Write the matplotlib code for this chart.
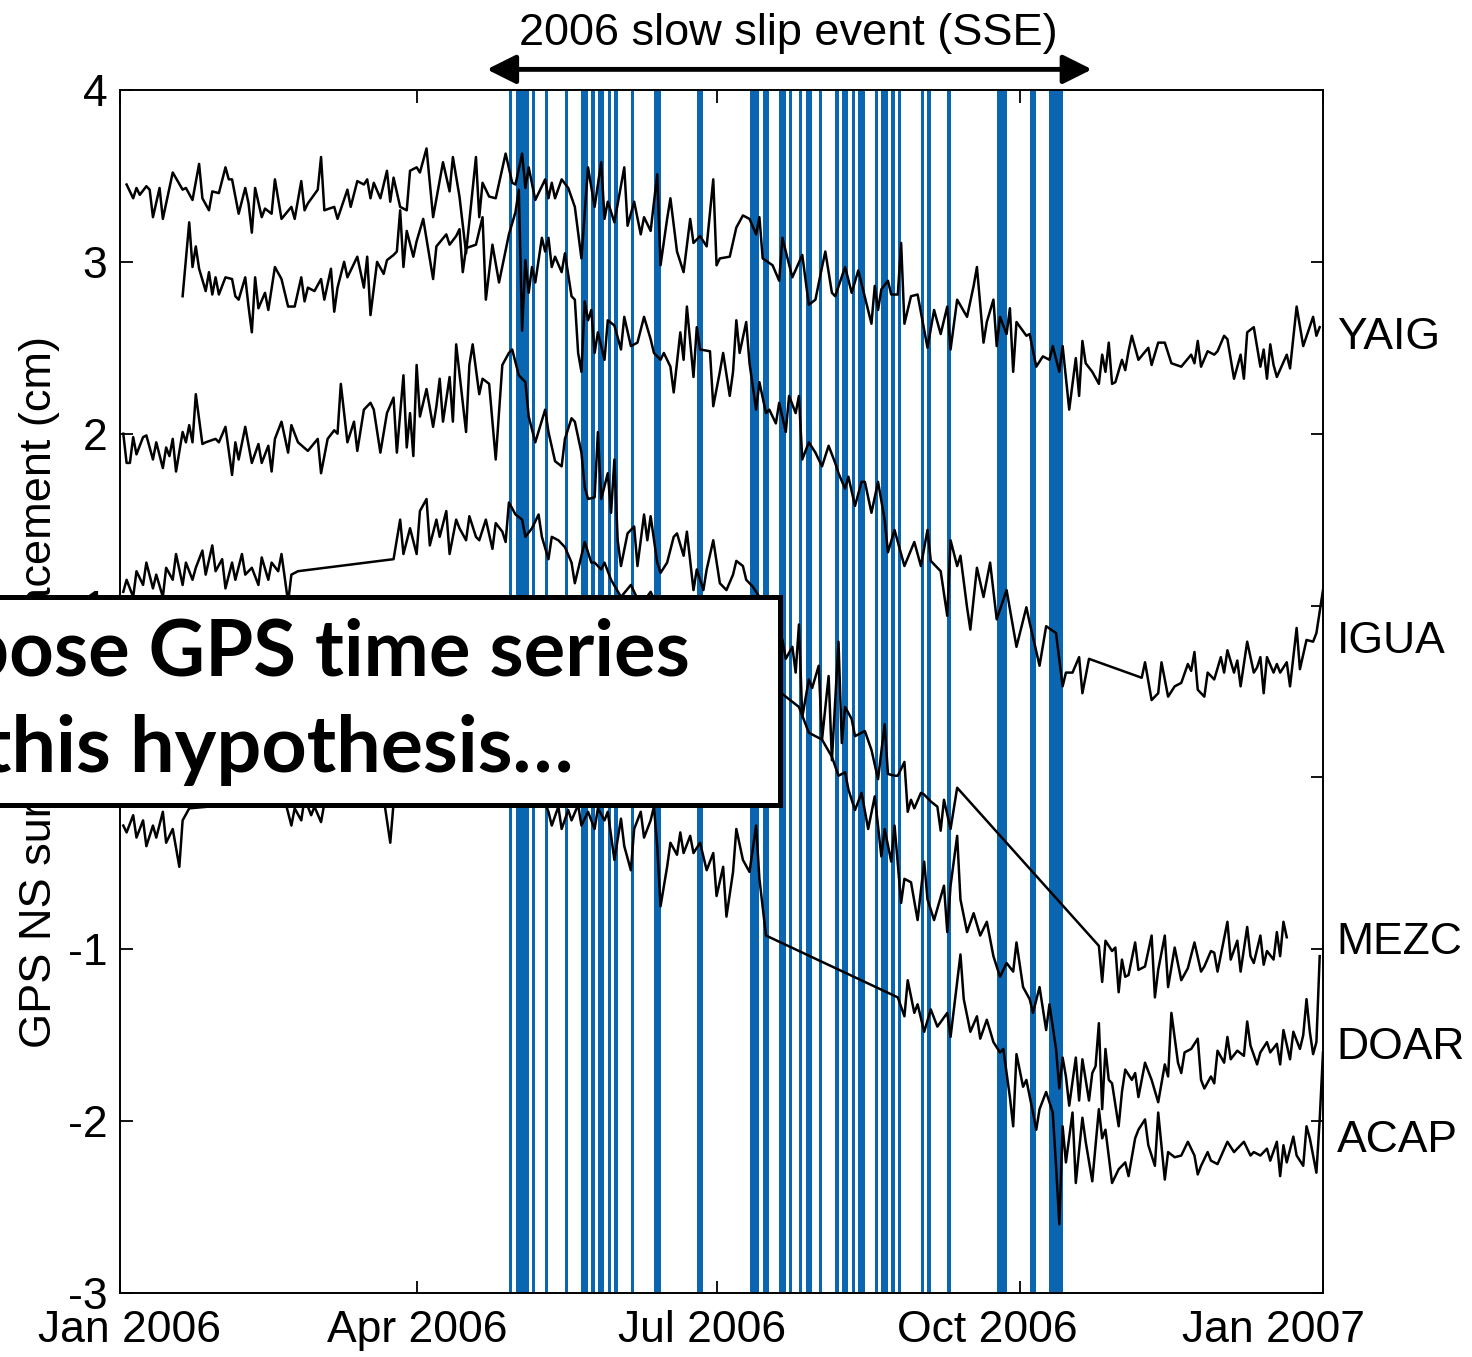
#!/usr/bin/env python3

"""
GPS north-south displacement of five stations through the 2006 slow slip
event, with the days of detected events drawn as blue bars.
"""

import matplotlib
matplotlib.use('Agg')
import matplotlib.pyplot as plt
from matplotlib.patches import Rectangle

plt.rcParams['font.family'] = ['Liberation Sans', 'DejaVu Sans']
plt.rcParams['axes.unicode_minus'] = False

# Station names, top to bottom
stations = ['YAIG', 'IGUA', 'MEZC', 'DOAR', 'ACAP']

# Day of 2006 (0 = 1 Jan) and displacement [cm] for every station
yaig_day = [2, 4, 5, 6, 8, 9, 10, 12, 13, 16, 19, 20, 22, 24, 25, 27, 28, 30, 32, 33,
            34, 36, 38, 39, 40, 41, 43, 44, 46, 47, 49, 52, 53, 55, 56, 57, 60, 61, 62, 65,
            66, 69, 70, 72, 74, 75, 76, 77, 79, 81, 82, 83, 85, 87, 88, 90, 91, 93, 95, 98,
            100, 101, 103, 105, 108, 109, 110, 112, 114, 117, 119, 120, 122, 123, 124, 126,
            129, 130, 131, 132, 134, 136, 138, 140, 142, 144, 146, 147, 148, 150, 153, 154,
            156, 158, 159, 161, 163, 164, 166, 167, 169, 171, 173, 174, 176, 178, 180, 181,
            182, 185, 187, 189, 191, 193, 194, 195, 198, 200, 201, 202, 204, 207, 209, 211,
            213, 214, 216, 217, 220, 222, 224, 228, 229, 230, 231, 233, 234, 236, 237, 238,
            240, 242, 245, 247, 249, 251, 252, 254, 257, 259, 260, 262, 263, 265, 266, 267,
            269, 270, 271, 272, 275, 276, 278, 280, 282, 283, 285, 286, 288, 290, 291, 292,
            293, 295, 297, 298, 299, 300, 301, 302, 304, 305, 306, 307, 309, 312, 313, 315,
            317, 319, 322, 325, 326, 327, 328, 330, 332, 333, 335, 336, 338, 340, 341, 342,
            344, 346, 347, 348, 349, 350, 351, 354, 355, 357, 359, 362, 363, 364]
yaig_cm = [3.45, 3.37, 3.43, 3.39, 3.44, 3.42, 3.26, 3.43, 3.25, 3.52, 3.42, 3.43, 3.36,
           3.57, 3.37, 3.30, 3.41, 3.40, 3.55, 3.48, 3.48, 3.28, 3.43, 3.34, 3.17, 3.43,
           3.26, 3.31, 3.28, 3.48, 3.25, 3.32, 3.25, 3.47, 3.30, 3.34, 3.42, 3.61, 3.30,
           3.32, 3.25, 3.42, 3.32, 3.47, 3.45, 3.48, 3.37, 3.46, 3.37, 3.53, 3.35, 3.49,
           3.32, 3.30, 3.53, 3.55, 3.52, 3.66, 3.26, 3.58, 3.41, 3.61, 3.38, 3.05, 3.61,
           3.26, 3.46, 3.38, 3.37, 3.63, 3.46, 3.45, 3.63, 3.43, 3.55, 3.36, 3.48, 3.37,
           3.46, 3.37, 3.48, 3.43, 3.32, 3.02, 3.55, 3.32, 3.58, 3.25, 3.35, 3.23, 3.55,
           3.21, 3.35, 3.16, 3.26, 3.18, 3.51, 2.98, 3.25, 3.37, 3.06, 2.94, 3.25, 3.11,
           3.15, 3.09, 3.48, 2.98, 3.02, 3.03, 3.20, 3.27, 3.25, 3.16, 3.26, 3.02, 2.98,
           2.89, 3.14, 3.06, 2.91, 3.04, 2.75, 2.78, 2.97, 3.06, 2.82, 2.80, 2.97, 2.82,
           2.95, 2.64, 2.86, 2.72, 2.84, 2.89, 2.81, 2.81, 3.11, 2.64, 2.80, 2.81, 2.50,
           2.72, 2.58, 2.74, 2.49, 2.78, 2.68, 2.86, 2.97, 2.53, 2.65, 2.78, 2.51, 2.68,
           2.58, 2.73, 2.36, 2.65, 2.57, 2.58, 2.39, 2.45, 2.43, 2.51, 2.36, 2.51, 2.14,
           2.44, 2.22, 2.54, 2.41, 2.36, 2.29, 2.46, 2.36, 2.53, 2.29, 2.30, 2.43, 2.37,
           2.48, 2.57, 2.43, 2.50, 2.40, 2.53, 2.53, 2.41, 2.39, 2.46, 2.41, 2.54, 2.39,
           2.48, 2.46, 2.48, 2.57, 2.55, 2.32, 2.46, 2.32, 2.59, 2.62, 2.39, 2.49, 2.32,
           2.52, 2.40, 2.33, 2.46, 2.38, 2.74, 2.51, 2.68, 2.57, 2.62]

igua_day = [19, 21, 22, 23, 24, 26, 27, 28, 29, 30, 32, 34, 35, 36, 38, 39, 40, 41, 42, 44,
            45, 47, 49, 51, 53, 55, 56, 57, 59, 61, 62, 64, 65, 66, 68, 69, 72, 74, 75, 76,
            78, 80, 81, 83, 84, 85, 86, 87, 89, 90, 92, 95, 96, 99, 100, 102, 103, 104, 105,
            108, 110, 111, 113, 115, 118, 120, 121, 122, 123, 124, 125, 126, 128, 129, 130,
            131, 132, 134, 135, 137, 138, 139, 140, 141, 142, 143, 144, 145, 147, 148, 150,
            152, 153, 155, 157, 159, 161, 162, 164, 165, 167, 168, 170, 171, 172, 174, 175,
            176, 179, 180, 182, 183, 185, 186, 187, 188, 190, 191, 193, 194, 196, 197, 199,
            200, 202, 203, 205, 206, 207, 209, 211, 213, 215, 217, 218, 220, 221, 223, 225,
            226, 228, 230, 232, 233, 235, 238, 241, 243, 245, 246, 249, 251, 252, 254, 255,
            257, 258, 260, 262, 264, 266, 269, 272, 275, 276, 279, 281, 284, 286, 287, 289,
            291, 292, 294, 310, 311, 313, 315, 316, 318, 320, 322, 324, 325, 326, 327, 329,
            330, 332, 334, 335, 336, 338, 339, 340, 342, 344, 345, 346, 347, 348, 350, 351,
            352, 354, 355, 357, 358, 360, 362, 363, 365]
igua_cm = [2.80, 3.23, 2.97, 3.09, 2.96, 2.83, 2.94, 2.81, 2.91, 2.81, 2.91, 2.90, 2.80,
           2.78, 2.91, 2.74, 2.59, 2.91, 2.73, 2.82, 2.72, 2.97, 2.90, 2.74, 2.74, 2.91,
           2.77, 2.85, 2.83, 2.90, 2.78, 2.96, 2.71, 2.85, 3.00, 2.91, 3.03, 2.85, 3.03,
           2.69, 3.00, 2.93, 3.01, 3.04, 3.06, 3.30, 2.97, 3.18, 3.03, 3.12, 3.25, 2.90,
           3.09, 3.16, 3.10, 3.15, 3.19, 2.94, 3.08, 3.10, 3.26, 2.78, 3.10, 2.88, 3.16,
           3.29, 3.42, 2.60, 3.01, 2.82, 2.97, 2.88, 3.14, 3.06, 3.14, 2.97, 3.03, 2.94,
           3.05, 2.80, 2.78, 2.47, 2.36, 2.77, 2.66, 2.72, 2.47, 2.59, 2.43, 2.66, 2.63,
           2.49, 2.68, 2.51, 2.53, 2.68, 2.55, 2.47, 2.43, 2.47, 2.39, 2.24, 2.59, 2.43,
           2.74, 2.33, 2.62, 2.49, 2.48, 2.16, 2.36, 2.47, 2.22, 2.36, 2.66, 2.47, 2.65,
           2.41, 2.14, 2.30, 2.12, 2.14, 2.06, 2.18, 2.01, 2.22, 2.12, 2.22, 1.85, 1.95,
           1.89, 1.81, 1.93, 1.83, 1.77, 1.68, 1.75, 1.58, 1.72, 1.72, 1.54, 1.72, 1.50,
           1.31, 1.44, 1.23, 1.37, 1.23, 1.44, 1.26, 1.20, 0.94, 1.38, 1.23, 1.29, 0.99,
           0.86, 1.22, 1.05, 1.25, 0.92, 1.09, 0.76, 0.99, 0.90, 0.65, 0.88, 0.84, 0.53,
           0.61, 0.61, 0.70, 0.49, 0.69, 0.58, 0.67, 0.45, 0.49, 0.67, 0.47, 0.53, 0.55,
           0.66, 0.62, 0.73, 0.51, 0.47, 0.61, 0.57, 0.70, 0.61, 0.74, 0.61, 0.68, 0.53,
           0.79, 0.61, 0.64, 0.70, 0.49, 0.70, 0.61, 0.66, 0.61, 0.67, 0.53, 0.87, 0.63,
           0.80, 0.79, 0.84, 1.09]

mezc_day = [1, 2, 3, 4, 5, 7, 8, 10, 11, 13, 14, 15, 16, 17, 19, 20, 21, 22, 23, 25, 26,
            29, 30, 32, 34, 35, 36, 38, 40, 42, 43, 45, 46, 47, 49, 51, 52, 54, 57, 60, 61,
            63, 65, 66, 67, 69, 71, 72, 74, 76, 77, 79, 81, 83, 84, 86, 87, 88, 89, 90, 91,
            93, 95, 96, 97, 98, 100, 101, 102, 105, 106, 107, 109, 110, 112, 114, 116, 118,
            119, 121, 123, 124, 126, 129, 130, 132, 134, 135, 137, 138, 140, 141, 142, 144,
            145, 146, 148, 149, 150, 151, 152, 154, 156, 157, 159, 160, 161, 163, 164, 166,
            168, 169, 171, 172, 174, 175, 177, 178, 180, 182, 184, 186, 187, 189, 190, 192,
            195, 198, 201, 202, 204, 205, 206, 207, 209, 210, 212, 213, 215, 216, 218, 219,
            220, 222, 223, 226, 228, 230, 232, 233, 235, 236, 238, 239, 240, 241, 243, 244,
            246, 248, 249, 250, 252, 254, 297, 298, 299, 301, 302, 303, 304, 305, 306, 308,
            309, 311, 313, 314, 315, 317, 318, 320, 322, 324, 326, 328, 329, 331, 332, 333,
            336, 337, 339, 340, 342, 343, 344, 346, 347, 348, 350, 351, 352, 353, 354]
mezc_cm = [2.00, 1.83, 1.83, 1.98, 1.88, 1.98, 1.99, 1.85, 1.95, 1.80, 1.92, 1.87, 1.97,
           1.78, 2.01, 1.95, 2.05, 1.95, 2.23, 1.94, 1.95, 1.97, 1.95, 2.04, 1.76, 1.95,
           1.85, 2.04, 1.83, 1.94, 1.83, 1.93, 1.78, 1.97, 2.07, 1.89, 2.05, 1.95, 1.90,
           1.97, 1.77, 1.97, 2.02, 2.00, 2.29, 1.95, 2.07, 1.90, 2.14, 2.18, 2.14, 1.89,
           2.12, 2.21, 1.89, 2.34, 1.92, 2.12, 1.87, 2.40, 2.10, 2.26, 2.04, 2.16, 2.32,
           2.07, 2.33, 2.07, 2.52, 2.01, 2.40, 2.52, 2.23, 2.32, 2.29, 1.85, 2.40, 2.47,
           2.49, 2.34, 2.30, 2.10, 1.95, 2.14, 2.01, 1.84, 1.81, 1.97, 2.09, 2.07, 1.89,
           1.69, 1.62, 1.63, 2.01, 1.62, 1.77, 1.54, 1.85, 1.38, 1.23, 1.42, 1.46, 1.23,
           1.53, 1.38, 1.52, 1.25, 1.19, 1.25, 1.40, 1.42, 1.29, 1.43, 1.09, 1.21, 1.09,
           1.21, 1.38, 1.13, 1.09, 1.18, 1.26, 1.23, 1.15, 1.11, 1.02, 0.92, 0.80, 0.69,
           0.76, 0.61, 0.89, 0.35, 0.57, 0.52, 0.65, 0.22, 0.59, 0.10, 0.79, 0.20, 0.41,
           0.34, 0.24, 0.27, 0.16, -0.01, 0.31, 0.02, 0.01, 0.01, 0.09, -0.20, -0.13, -0.18,
           -0.09, -0.10, -0.14, -0.17, -0.31, -0.13, -0.30, -0.06, -0.98, -1.19, -0.95,
           -1.01, -0.99, -1.25, -1.06, -1.16, -1.15, -0.96, -1.12, -1.10, -0.92, -1.28,
           -1.12, -0.92, -1.22, -0.99, -1.18, -1.11, -0.96, -1.13, -1.10, -1.01, -1.02,
           -1.13, -0.84, -1.06, -0.95, -1.13, -0.87, -1.04, -1.08, -0.92, -1.09, -1.01,
           -1.06, -0.90, -1.04, -0.84, -0.93]

doar_day = [1, 2, 4, 5, 7, 8, 10, 11, 13, 14, 16, 17, 19, 20, 22, 23, 25, 26, 28, 29, 31,
            32, 34, 35, 37, 38, 40, 42, 43, 45, 46, 48, 49, 51, 52, 54, 83, 85, 86, 88, 90,
            91, 93, 94, 96, 97, 99, 100, 102, 103, 105, 106, 108, 109, 111, 113, 114, 116,
            117, 118, 120, 122, 123, 125, 127, 128, 130, 131, 133, 135, 137, 138, 140, 141,
            143, 144, 146, 147, 149, 152, 155, 158, 161, 164, 167, 170, 173, 176, 179, 182,
            185, 188, 191, 194, 197, 200, 202, 206, 209, 213, 216, 218, 220, 221, 223, 225,
            227, 229, 231, 232, 234, 235, 237, 238, 240, 242, 244, 245, 247, 250, 251, 252,
            254, 255, 257, 259, 261, 263, 265, 267, 269, 271, 272, 274, 276, 277, 279, 281,
            282, 284, 285, 286, 287, 288, 290, 291, 292, 294, 295, 296, 297, 298, 299, 300,
            301, 303, 304, 305, 307, 308, 309, 311, 313, 315, 317, 318, 319, 321, 322, 323,
            325, 327, 328, 329, 331, 332, 333, 335, 336, 337, 339, 341, 342, 343, 345, 346,
            348, 349, 351, 352, 353, 355, 356, 358, 359, 360, 361, 362, 363, 364]
doar_cm = [1.08, 1.15, 1.05, 1.20, 1.12, 1.25, 1.10, 1.18, 1.05, 1.22, 1.15, 1.30, 1.12,
           1.25, 1.15, 1.22, 1.32, 1.18, 1.35, 1.20, 1.27, 1.10, 1.25, 1.15, 1.30, 1.18,
           1.22, 1.12, 1.28, 1.15, 1.25, 1.20, 1.30, 1.02, 1.18, 1.20, 1.27, 1.50, 1.30,
           1.45, 1.30, 1.55, 1.62, 1.35, 1.50, 1.40, 1.55, 1.30, 1.50, 1.45, 1.38, 1.52,
           1.40, 1.38, 1.50, 1.33, 1.48, 1.43, 1.37, 1.60, 1.53, 1.50, 1.40, 1.45, 1.53,
           1.40, 1.27, 1.40, 1.38, 1.34, 1.25, 1.13, 1.29, 1.37, 1.25, 1.25, 1.21, 1.25,
           1.15, 1.05, 1.12, 1.00, 1.08, 0.95, 1.02, 0.90, 0.98, 0.85, 0.92, 0.80, 0.85,
           0.70, 0.75, 0.62, 0.58, 0.50, 0.47, 0.41, 0.26, 0.22, 0.12, 0.01, 0.03, -0.07,
           -0.19, -0.09, -0.30, -0.11, -0.46, -0.30, -0.49, -0.28, -0.73, -0.59, -0.61,
           -0.83, -0.49, -0.71, -0.83, -0.63, -0.90, -0.63, -0.34, -0.71, -0.90, -0.79,
           -0.92, -0.84, -1.04, -1.16, -1.08, -1.13, -0.96, -1.22, -1.29, -1.37, -1.22,
           -1.47, -1.32, -1.58, -1.81, -1.63, -1.74, -1.91, -1.63, -1.88, -1.64, -1.88,
           -1.72, -1.68, -1.43, -1.93, -1.58, -1.76, -1.78, -2.03, -1.83, -1.70, -1.76,
           -1.72, -1.86, -1.66, -1.76, -1.89, -1.67, -1.74, -1.37, -1.66, -1.72, -1.60,
           -1.58, -1.52, -1.76, -1.81, -1.74, -1.78, -1.59, -1.66, -1.51, -1.64, -1.59,
           -1.62, -1.42, -1.56, -1.67, -1.60, -1.54, -1.60, -1.55, -1.67, -1.47, -1.64,
           -1.48, -1.58, -1.50, -1.29, -1.48, -1.61, -1.54, -1.04]

acap_day = [1, 2, 4, 5, 7, 8, 10, 11, 13, 14, 16, 18, 19, 21, 50, 52, 53, 55, 56, 58, 59,
            61, 62, 64, 80, 82, 83, 86, 89, 92, 95, 98, 101, 104, 107, 110, 113, 116, 119,
            122, 125, 128, 130, 131, 133, 134, 136, 137, 139, 140, 142, 144, 145, 147, 148,
            150, 152, 153, 155, 156, 158, 159, 161, 162, 163, 164, 166, 167, 169, 170, 171,
            173, 174, 176, 178, 180, 181, 183, 184, 186, 187, 189, 191, 193, 194, 196, 236,
            238, 239, 241, 242, 244, 246, 248, 251, 252, 255, 256, 258, 260, 261, 263, 265,
            267, 268, 270, 271, 272, 274, 275, 277, 278, 279, 281, 283, 284, 285, 286, 287,
            289, 290, 292, 293, 295, 297, 298, 299, 301, 303, 305, 306, 308, 309, 311, 312,
            314, 315, 317, 318, 320, 322, 324, 326, 327, 328, 330, 331, 333, 336, 338, 339,
            341, 343, 344, 346, 348, 349, 351, 352, 353, 354, 356, 357, 359, 360, 361, 363,
            364, 365]
acap_cm = [-0.28, -0.32, -0.22, -0.35, -0.25, -0.40, -0.28, -0.35, -0.20, -0.38, -0.30,
           -0.52, -0.25, -0.18, -0.13, -0.28, -0.18, -0.25, -0.12, -0.22, -0.17, -0.26,
           -0.15, -0.16, -0.12, -0.38, -0.15, -0.05, 0.02, -0.08, 0.05, -0.02, 0.08, 0.00,
           0.10, 0.02, 0.08, 0.00, 0.12, 0.02, -0.05, -0.10, -0.20, -0.28, -0.17, -0.30,
           -0.19, -0.25, -0.16, -0.28, -0.20, -0.30, -0.18, -0.25, -0.20, -0.48, -0.24,
           -0.40, -0.54, -0.30, -0.20, -0.35, -0.25, -0.17, -0.40, -0.75, -0.52, -0.38,
           -0.45, -0.32, -0.44, -0.34, -0.44, -0.38, -0.54, -0.44, -0.69, -0.52, -0.81,
           -0.55, -0.30, -0.48, -0.55, -0.28, -0.59, -0.92, -1.28, -1.39, -1.18, -1.37,
           -1.32, -1.48, -1.35, -1.45, -1.37, -1.51, -1.03, -1.29, -1.48, -1.39, -1.52,
           -1.41, -1.54, -1.60, -1.58, -1.86, -2.03, -1.61, -1.80, -1.76, -1.95, -2.05,
           -1.93, -1.83, -1.95, -2.26, -2.60, -2.03, -2.24, -1.95, -2.36, -1.98, -2.12,
           -2.35, -1.93, -2.10, -2.05, -2.36, -2.28, -2.24, -2.32, -2.10, -2.05, -1.99,
           -2.14, -2.26, -1.95, -2.34, -2.18, -2.21, -2.20, -2.12, -2.20, -2.31, -2.26,
           -2.18, -2.23, -2.25, -2.12, -2.18, -2.16, -2.12, -2.20, -2.18, -2.20, -2.16,
           -2.23, -2.12, -2.32, -2.14, -2.24, -2.09, -2.20, -2.26, -2.03, -2.10, -2.30,
           -1.99, -1.60]

# Days with detected events during the SSE
event_day = [118, 120, 121, 122, 123, 125, 129, 135, 140, 141, 143, 145, 146, 148, 150,
             155, 162, 163, 175, 176, 191, 192, 193, 195, 196, 200, 201, 203, 206, 208,
             209, 212, 217, 219, 220, 222, 224, 225, 229, 231, 232, 234, 236, 243, 245,
             251, 266, 267, 268, 276, 277, 282, 283, 284, 285]

# Month ticks
month_day = [0, 90, 181, 273, 365]
month_label = ['Jan 2006', 'Apr 2006', 'Jul 2006', 'Oct 2006', 'Jan 2007']


def main():
    fig = plt.figure(figsize=(14.72, 13.57), dpi=100)
    ax = fig.add_axes([120 / 1472, 1 - 1293 / 1357, 1203 / 1472, 1203 / 1357])

    plotSeries(ax)
    styleAxes(ax)
    addAnnotations(fig, ax)

    fig.savefig('out.png', dpi=100)


def plotSeries(ax):
    # Event days as one day wide bars behind the series
    for day in event_day:
        ax.axvspan(day, day + 1, facecolor='#0b66b2', lw=0, zorder=1)

    series = [(yaig_day, yaig_cm), (igua_day, igua_cm), (mezc_day, mezc_cm),
              (doar_day, doar_cm), (acap_day, acap_cm)]
    for days, cm in series:
        ax.plot(days, cm, color='black', lw=1.8, zorder=2)

    # Station names next to the right axis
    label_cm = [2.56, 0.79, -0.96, -1.57, -2.11]
    for name, y in zip(stations, label_cm):
        ax.text(369.2, y, name, ha='left', va='center', fontsize=32)


def styleAxes(ax):
    ax.set_xlim(0, 365)
    ax.set_ylim(-3, 4)

    # Tick marks on the month starts, labels spread evenly below
    ax.xaxis.remove_overlapping_locs = False
    ax.set_xticks(month_day)
    ax.set_xticklabels([])
    ax.set_xticks([3, 90.1, 176.6, 263.3, 350.1], minor=True)
    ax.set_xticklabels(month_label, minor=True)
    ax.set_yticks(range(-3, 5))

    ax.tick_params(which='major', direction='in', length=9, width=1.3,
                   top=True, right=True, labelsize=32, pad=9)
    ax.tick_params(axis='x', which='minor', length=0, labelsize=32, pad=12)
    for spine in ax.spines.values():
        spine.set_linewidth(1.4)

    ax.set_ylabel('GPS NS surface displacement (cm)', fontsize=32.5, va='center')
    ax.yaxis.set_label_coords(-0.067, 0.5)


def addAnnotations(fig, ax):
    # SSE span arrow above the axes
    ax.annotate('', xy=(111.3, 4.12), xytext=(294.9, 4.12),
                arrowprops=dict(arrowstyle='<|-|>,head_length=0.8,head_width=0.4',
                                lw=3.5, color='black', mutation_scale=22,
                                shrinkA=0, shrinkB=0),
                annotation_clip=False)
    ax.text(202.7, 4.33, '2006 slow slip event (SSE)', ha='center', va='center',
            fontsize=32.5)

    # Callout box laid over the left part of the figure
    box = Rectangle((-0.02, 1 - 805 / 1357), 780 / 1472 + 0.02, 208 / 1357,
                    transform=fig.transFigure, facecolor='white',
                    edgecolor='black', lw=3.6, zorder=10)
    fig.add_artist(box)
    fig.text(690 / 1472, 1 - 676 / 1357, 'pose GPS time series', ha='right',
             va='baseline', fontsize=56, fontweight='bold', family='Lato', zorder=11)
    fig.text(-18 / 1472, 1 - 772 / 1357, 'this hypothesis\u2026', ha='left',
             va='baseline', fontsize=57, fontweight='bold', family='Lato', zorder=11)


if __name__ == "__main__":
    main()
